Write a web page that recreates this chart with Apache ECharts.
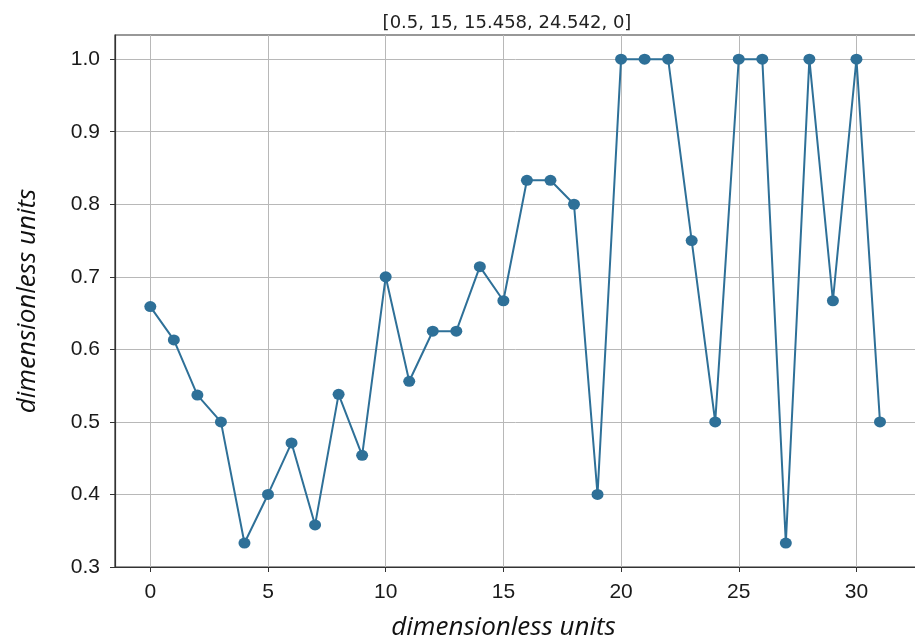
<!DOCTYPE html>
<html>
<head>
<meta charset="utf-8">
<script src="https://cdn.jsdelivr.net/npm/echarts@6/dist/echarts.min.js"></script>
<style>
  html, body { margin: 0; padding: 0; background: #fff; }
  #chart { width: 915px; height: 641px; }
</style>
</head>
<body>
<div id="chart"></div>
<script>
// Sample index and measured ratio per sample
const indices = [0,1,2,3,4,5,6,7,8,9,10,11,12,13,14,15,16,17,18,19,20,21,22,23,24,25,26,27,28,29,30,31];
const ratios = [0.659, 0.613, 0.537, 0.5, 0.333, 0.4, 0.471, 0.358, 0.538, 0.454,
                0.7, 0.556, 0.625, 0.625, 0.714, 0.667, 0.833, 0.833, 0.8, 0.4,
                1.0, 1.0, 1.0, 0.75, 0.5, 1.0, 1.0, 0.333, 1.0, 0.667, 1.0, 0.5];
const xTicks = [0, 5, 10, 15, 20, 25, 30];
const yTicks = [0.3, 0.4, 0.5, 0.6, 0.7, 0.8, 0.9, 1.0];
const titleText = '[0.5, 15, 15.458, 24.542, 0]';
const axisName = 'dimensionless units';

const lineColor = '#2e7098';
const gridColor = '#b8b8b8';

const chart = echarts.init(document.getElementById('chart'));
chart.setOption({
  animation: false,
  backgroundColor: '#ffffff',
  title: {
    text: titleText,
    left: 502, top: 9,
    textAlign: 'center',
    textStyle: { fontFamily: 'DejaVu Sans', fontSize: 18, fontWeight: 'normal', color: '#222' }
  },
  grid: {
    left: 115, top: 35, width: 805, height: 532,
    outerBoundsMode: 'none',
    containLabel: false,
    show: true, borderColor: '#333', borderWidth: 1.2, backgroundColor: 'transparent'
  },
  xAxis: {
    type: 'value',
    min: -1.5, max: 32.7,
    axisLine: { show: true, onZero: false, lineStyle: { color: '#333', width: 1.2 } },
    axisTick: { show: true, length: 5, customValues: xTicks, lineStyle: { color: '#333' } },
    axisLabel: {
      customValues: xTicks, margin: 15,
      fontFamily: 'Liberation Sans', fontSize: 21, color: '#1a1a1a'
    },
    splitLine: { show: true, lineStyle: { color: gridColor, width: 1 } },
    name: axisName,
    nameLocation: 'middle', nameGap: 48,
    nameTextStyle: {
      fontFamily: 'Open Sans', fontStyle: 'italic', fontSize: 26, color: '#111',
      padding: [0, 28, 0, 0]
    }
  },
  yAxis: {
    type: 'value',
    min: 0.3, max: 1.0333,
    axisLine: { show: true, onZero: false, lineStyle: { color: '#333', width: 1.2 } },
    axisTick: { show: true, length: 5, customValues: yTicks, lineStyle: { color: '#333' } },
    axisLabel: {
      customValues: yTicks, margin: 15,
      formatter: v => v.toFixed(1),
      fontFamily: 'Liberation Sans', fontSize: 21, color: '#1a1a1a'
    },
    splitLine: { show: true, lineStyle: { color: gridColor, width: 1 } },
    name: axisName,
    nameLocation: 'middle', nameGap: 74, nameRotate: 90,
    nameTextStyle: {
      fontFamily: 'Open Sans', fontStyle: 'italic', fontSize: 26, color: '#111'
    }
  },
  series: [{
    type: 'line',
    data: indices.map((x, i) => [x, ratios[i]]),
    symbol: 'circle',
    symbolSize: [12, 11],
    lineStyle: { color: lineColor, width: 2 },
    itemStyle: { color: lineColor },
    clip: false
  }]
});
</script>
</body>
</html>
